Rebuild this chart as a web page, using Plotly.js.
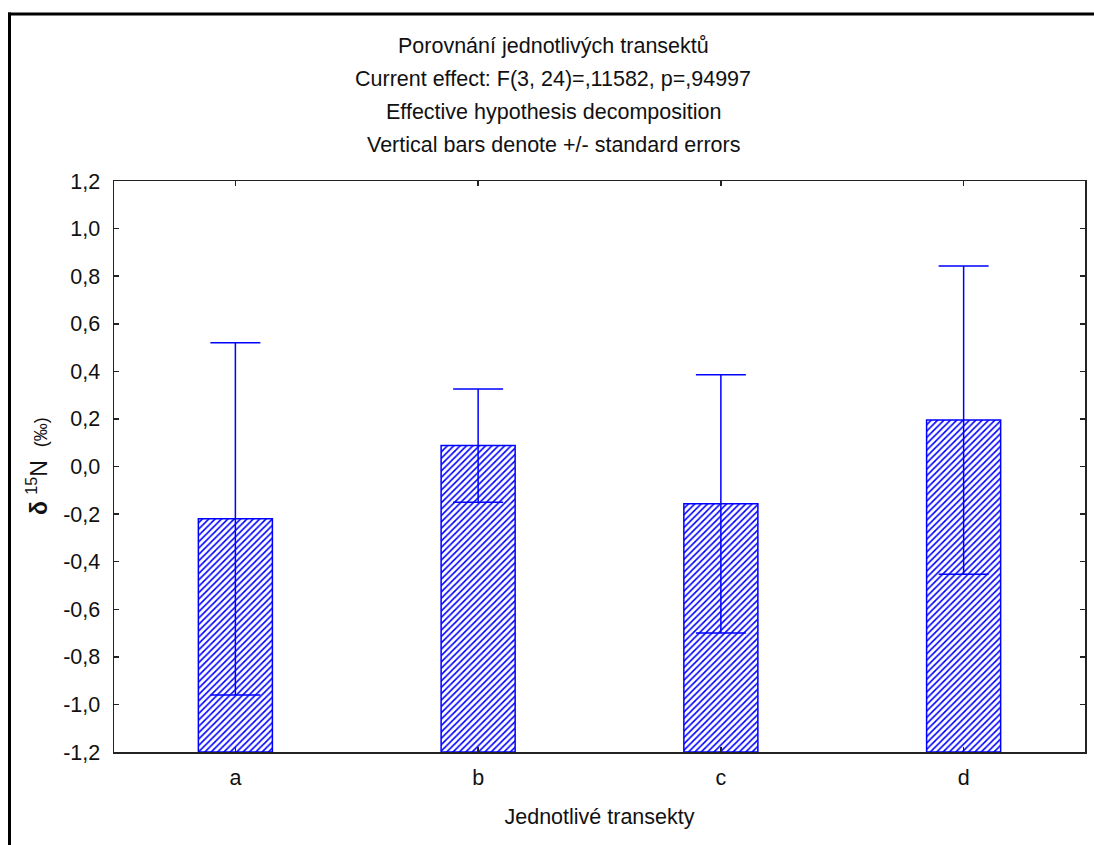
<!DOCTYPE html>
<html>
<head>
<meta charset="utf-8">
<script src="https://cdn.plot.ly/plotly-3.0.1.min.js"></script>
<style>
html,body{margin:0;padding:0;background:#fff;}
#chart{width:1094px;height:845px;}
</style>
</head>
<body>
<div id="chart"></div>
<script>
// ---- data ----
const categories = ["a", "b", "c", "d"];
const means = [-0.22, 0.088, -0.157, 0.195];
const stdErrors = [0.74, 0.238, 0.543, 0.648];
const axisBase = -1.2;
const yTickValues = [-1.2, -1.0, -0.8, -0.6, -0.4, -0.2, 0.0, 0.2, 0.4, 0.6, 0.8, 1.0, 1.2];
const yTickLabels = ["-1,2", "-1,0", "-0,8", "-0,6", "-0,4", "-0,2", "0,0", "0,2", "0,4", "0,6", "0,8", "1,0", "1,2"];
const titleLines = [
  "Porovnání jednotlivých transektů",
  "Current effect: F(3, 24)=,11582, p=,94997",
  "Effective hypothesis decomposition",
  "Vertical bars denote +/- standard errors"
];
const xTitle = "Jednotlivé transekty";

// ---- layout geometry ----
const W = 1094, H = 845;
const M = {l: 114, r: 9, t: 181, b: 93};
const PW = W - M.l - M.r, PH = H - M.t - M.b;
const px2x = p => (p - M.l) / PW;
const py2y = p => (H - M.b - p) / PH;

const FONT = "Liberation Sans, Arial, sans-serif";
const FS = 21.5;
const TXT = "#111";
const BLUE = "#0000ff";

const trace = {
  type: "bar",
  x: categories,
  y: means.map(m => m - axisBase),
  base: axisBase,
  width: 0.305,
  marker: {
    color: "white",
    line: {color: BLUE, width: 1.5},
    pattern: {shape: "/", fgcolor: BLUE, bgcolor: "white", size: 4.5, solidity: 0.35}
  },
  error_y: {type: "data", array: stdErrors, visible: true, color: BLUE, thickness: 1.5, width: 25},
  hoverinfo: "skip"
};

const annotations = titleLines.map((t, i) => ({
  text: t, xref: "paper", yref: "paper",
  x: px2x(553), y: py2y([46, 79, 112, 145][i]),
  showarrow: false, xanchor: "center", yanchor: "middle",
  font: {family: FONT, size: FS, color: TXT}
}));
annotations.push({
  text: "<b>δ</b> <sup>15</sup>N  <span style='font-size:18px'>(‰)</span>",
  xref: "paper", yref: "paper", x: px2x(37), y: py2y(466),
  textangle: -90, showarrow: false, xanchor: "center", yanchor: "middle",
  font: {family: FONT, size: 23, color: TXT}
});

const layout = {
  width: W, height: H,
  margin: M,
  paper_bgcolor: "white", plot_bgcolor: "white",
  showlegend: false,
  font: {family: FONT, size: FS, color: TXT},
  bargap: 0,
  xaxis: {
    type: "category",
    range: [-0.5, 3.5],
    showline: true, linecolor: "#222", linewidth: 1.5, mirror: "ticks",
    ticks: "inside", ticklen: 5, tickcolor: "#222", tickwidth: 1.5,
    showgrid: false, zeroline: false,
    tickfont: {family: FONT, size: FS, color: TXT},
    ticklabelstandoff: 6,
    title: {text: xTitle, font: {family: FONT, size: FS, color: TXT}, standoff: 19}
  },
  yaxis: {
    range: [-1.2, 1.2],
    tickvals: yTickValues, ticktext: yTickLabels,
    showline: true, linecolor: "#222", linewidth: 1.5, mirror: "ticks",
    ticks: "inside", ticklen: 5, tickcolor: "#222", tickwidth: 1.5,
    showgrid: false, zeroline: false,
    tickfont: {family: FONT, size: FS, color: TXT},
    ticklabelstandoff: 8
  },
  annotations: annotations,
  shapes: [
    {type: "line", xref: "paper", yref: "paper", x0: px2x(9.5), x1: px2x(9.5), y0: py2y(12.5), y1: py2y(850), line: {color: "#000", width: 3}},
    {type: "line", xref: "paper", yref: "paper", x0: px2x(8), x1: px2x(1100), y0: py2y(14), y1: py2y(14), line: {color: "#000", width: 3}}
  ]
};

Plotly.newPlot("chart", [trace], layout, {displayModeBar: false, staticPlot: true});
</script>
</body>
</html>
